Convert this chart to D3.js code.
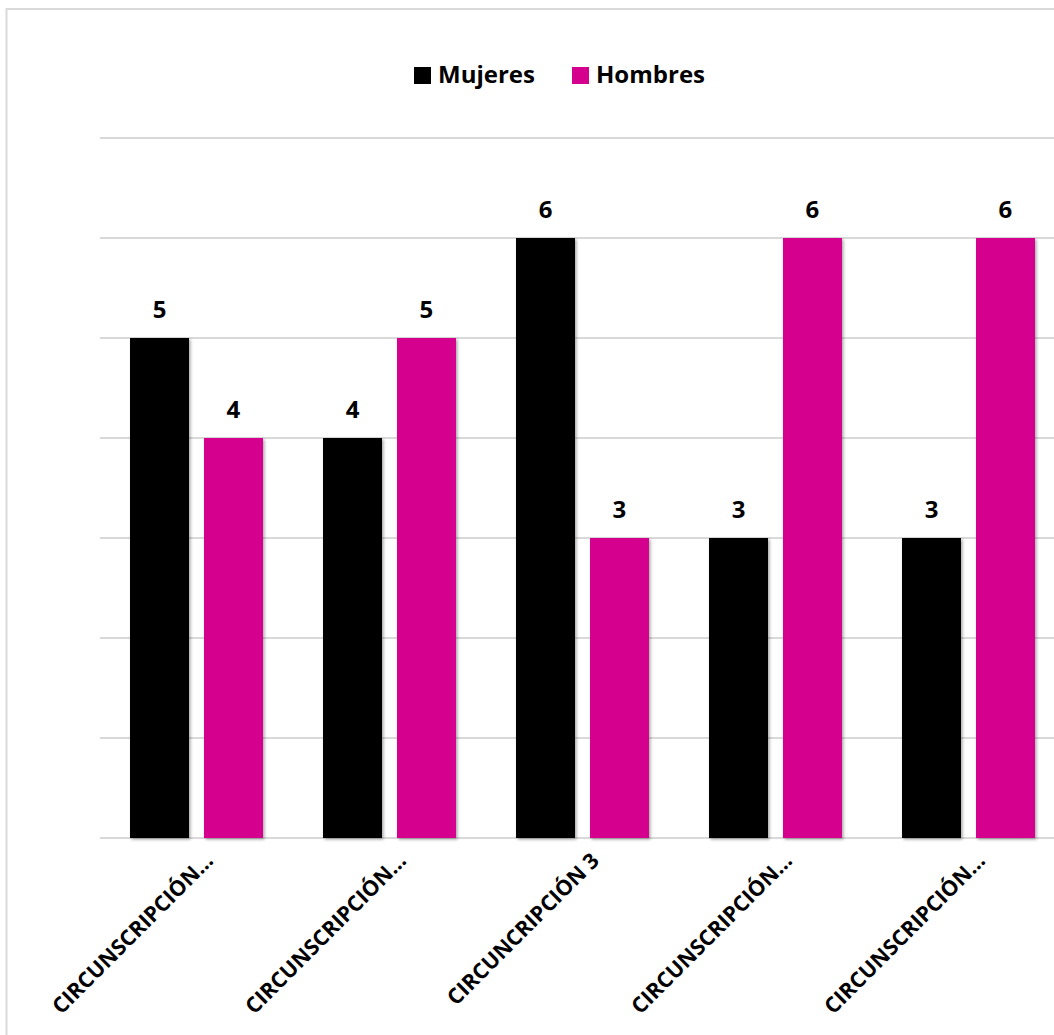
<!DOCTYPE html>
<html>
<head>
<meta charset="utf-8">
<script src="https://cdn.jsdelivr.net/npm/d3@7"></script>
<style>
  html, body { margin: 0; padding: 0; background: #fff; }
  svg { display: block; font-family: "Open Sans", sans-serif; }
</style>
</head>
<body>
<svg id="chart" width="1054" height="1035"></svg>
<script>
// Seats per electoral district, split by sex
const categories = ["CIRCUNSCRIPCIÓN…", "CIRCUNSCRIPCIÓN…", "CIRCUNCRIPCIÓN 3", "CIRCUNSCRIPCIÓN…", "CIRCUNSCRIPCIÓN…"];
const seriesNames = ["Mujeres", "Hombres"];
const mujeres = [5, 4, 6, 3, 3];
const hombres = [4, 5, 3, 6, 6];
const yTicks = [0, 1, 2, 3, 4, 5, 6, 7];

const colors = { Mujeres: "#000000", Hombres: "#d6008f" };

const svg = d3.select("#chart");

const margin = { left: 100, top: 138, bottom: 838, right: 1065 };

// Outer frame of the chart area
svg.append("rect")
  .attr("x", 6.5).attr("y", 9)
  .attr("width", 1100).attr("height", 1100)
  .attr("fill", "#fff")
  .attr("stroke", "#d9d9d9")
  .attr("stroke-width", 2);

// Soft shadow under the bars
const defs = svg.append("defs");
const f = defs.append("filter").attr("id", "shadow")
  .attr("x", "-20%").attr("y", "-5%").attr("width", "140%").attr("height", "110%");
f.append("feDropShadow")
  .attr("dx", 1.5).attr("dy", 1.5).attr("stdDeviation", 1.8)
  .attr("flood-color", "#000").attr("flood-opacity", 0.35);

const idx = d3.range(categories.length);
const x0 = d3.scaleBand()
  .domain(idx)
  .range([margin.left, margin.right])
  .paddingInner(0.311)
  .paddingOuter(0.1555);

const x1 = d3.scaleBand()
  .domain(seriesNames)
  .range([0, x0.bandwidth()])
  .paddingInner(0.2027)
  .paddingOuter(0);

const y = d3.scaleLinear().domain([0, 7]).range([margin.bottom, margin.top]);

// Horizontal gridlines
svg.append("g")
  .selectAll("line")
  .data(yTicks)
  .join("line")
  .attr("x1", margin.left).attr("x2", margin.right)
  .attr("y1", d => y(d)).attr("y2", d => y(d))
  .attr("stroke", "#d9d9d9")
  .attr("stroke-width", 2);

const rows = idx.map(i => ({ i, values: [
  { key: "Mujeres", value: mujeres[i] },
  { key: "Hombres", value: hombres[i] }
]}));

const groups = svg.append("g")
  .selectAll("g")
  .data(rows)
  .join("g")
  .attr("transform", d => `translate(${x0(d.i)},0)`);

groups.selectAll("rect")
  .data(d => d.values)
  .join("rect")
  .attr("x", d => x1(d.key))
  .attr("y", d => y(d.value))
  .attr("width", x1.bandwidth())
  .attr("height", d => y(0) - y(d.value))
  .attr("fill", d => colors[d.key])
  .attr("filter", "url(#shadow)");

// Value labels above each bar
groups.selectAll("text")
  .data(d => d.values)
  .join("text")
  .attr("x", d => x1(d.key) + x1.bandwidth() / 2)
  .attr("y", d => y(d.value) - 20)
  .attr("text-anchor", "middle")
  .attr("font-size", 24)
  .attr("font-weight", 700)
  .attr("fill", "#000")
  .text(d => d.value);

// Rotated category labels
svg.append("g")
  .selectAll("text")
  .data(idx)
  .join("text")
  .attr("transform", i => `translate(${x0(i) + x0.bandwidth() / 2 + 18},862) rotate(-45)`)
  .attr("text-anchor", "end")
  .attr("font-size", 21.5)
  .attr("font-weight", 700)
  .attr("fill", "#000")
  .text(i => categories[i]);

// Legend
const legend = svg.append("g").attr("font-size", 24).attr("font-weight", 700);
const legendItems = [
  { key: "Mujeres", x: 414 },
  { key: "Hombres", x: 572 }
];
seriesNames.forEach((name, k) => {
  const lx = legendItems[k].x;
  legend.append("rect")
    .attr("x", lx).attr("y", 67)
    .attr("width", 17).attr("height", 17)
    .attr("fill", colors[name]);
  legend.append("text")
    .attr("x", lx + 24).attr("y", 83)
    .attr("fill", "#000")
    .text(name);
});
</script>
</body>
</html>
